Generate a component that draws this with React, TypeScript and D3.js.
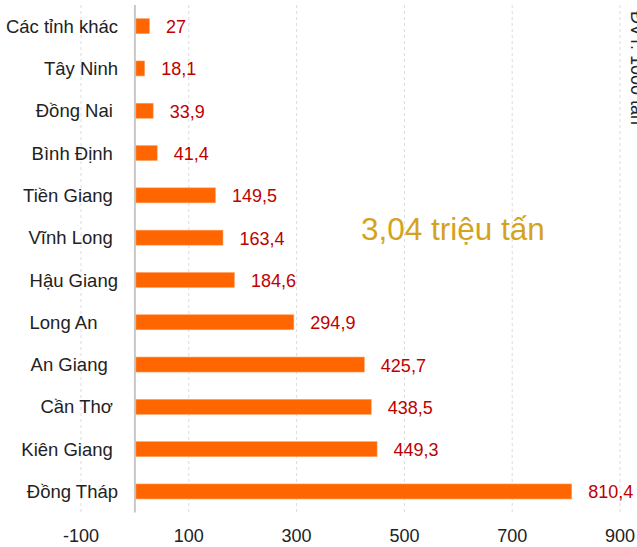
import React from 'react';
import * as d3 from 'd3';

// rice output by province, 1000 tonnes
const provinces = [
  'Các tỉnh khác',
  'Tây Ninh',
  'Đồng Nai ',
  'Bình Định ',
  'Tiền Giang ',
  'Vĩnh Long ',
  'Hậu Giang',
  'Long An    ',
  'An Giang  ',
  'Cần Thơ ',
  'Kiên Giang ',
  'Đồng Tháp',
];
const output = [27, 18.1, 33.9, 41.4, 149.5, 163.4, 184.6, 294.9, 425.7, 438.5, 449.3, 810.4];
const gridTicks = [-100, 100, 300, 500, 700, 900];
const totalNote = '3,04 triệu tấn';
const unitNote = 'ĐVT: 1000 tấn';

const width = 637, height = 547;
const font = '"Liberation Sans", Arial, sans-serif';

const App: React.FC = () => {
  const x = d3.scaleLinear().domain([-100, 900]).range([81, 620]);
  const y = d3.scaleBand<number>().domain(d3.range(provinces.length)).range([5, 512.6]).paddingInner(0.645).paddingOuter(0.3225);
  const bw = y.bandwidth();
  const fmt = (v: number) => String(v).replace('.', ',');

  return (
    <svg width={width} height={height} style={{ position: 'absolute', left: 0, top: 0, background: '#fff' }} fontFamily={font}>
      {gridTicks.map(t => (
        <line key={t} x1={x(t)} x2={x(t)} y1={5} y2={512.6} stroke="#dcdcdc" strokeDasharray="3,3" />
      ))}
      <line x1={x(0)} x2={x(0)} y1={5} y2={512.6} stroke="#c8c8c8" strokeWidth={2} />

      {provinces.map((p, i) => {
        const cy = (y(i) as number) + bw / 2;
        return (
          <g key={i}>
            <rect x={x(0) + 1} y={y(i)} width={x(output[i]) - x(0) - 1} height={bw} fill="#ff6600" stroke="#ffa366" strokeWidth={0.6} />
            <text x={118} y={cy + 6.6} textAnchor="end" fontSize={18.5} fill="#222" style={{ whiteSpace: 'pre' }}>{p}</text>
            <text x={x(output[i]) + 16.5} y={cy + 7} fontSize={18} fill="#c00000">{fmt(output[i])}</text>
          </g>
        );
      })}

      {gridTicks.map(t => (
        <text key={t} x={x(t)} y={542} textAnchor="middle" fontSize={18} fill="#222">{t}</text>
      ))}

      <text x={361} y={240} fontSize={31.5} fill="#d4a31e">{totalNote}</text>
      <text transform="translate(631,11) rotate(90)" fontSize={18} fill="#222">{unitNote}</text>
    </svg>
  );
};

export default App;
